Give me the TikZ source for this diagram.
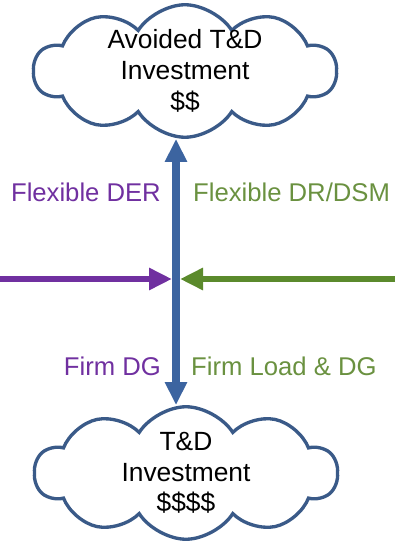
\documentclass[tikz,border=0pt]{standalone}
\usepackage{fontspec}
\setmainfont{Liberation Sans}
\usetikzlibrary{shapes.symbols,arrows.meta}
\definecolor{cloudblue}{HTML}{3A5A88}
\definecolor{arrowblue}{HTML}{3C64A0}
\definecolor{derpurple}{HTML}{7030A0}
\definecolor{dsmgreen}{HTML}{5B8A2C}
\definecolor{txtgreen}{HTML}{6A9140}
\tikzset{
  invest/.style={draw=cloudblue, line width=1.9pt, cloud, cloud puffs=10, cloud puff arc=115,
    aspect=2.4, minimum width=6.05cm, minimum height=2.65cm, align=center, inner sep=-4pt,
    font=\fontsize{15}{17.5}\selectfont},
  lbl/.style={font=\fontsize{14.6}{17.5}\selectfont}
}
\begin{document}
\begin{tikzpicture}[>={Triangle[width=0.42cm,length=0.46cm]}]
\useasboundingbox (0,0) rectangle (7.9,-10.92);
\node(Avoided)[invest] at (3.7,-1.42) {Avoided T\&D\\Investment\\\$\$};
\node(Invest)[invest] at (3.72,-9.46) {T\&D\\Investment\\\$\$\$\$};

\coordinate(Mid) at (3.52,-5.58);
\coordinate(Gauche) at (0,-5.58);
\coordinate(Droite) at (7.9,-5.58);

\node(FlexDER)[lbl, text=derpurple, anchor=east] at (3.34,-3.84) {Flexible DER};
\node(FlexDSM)[lbl, text=txtgreen, anchor=west] at (3.74,-3.84) {Flexible DR/DSM};
\node(FirmDG)[lbl, text=derpurple, anchor=east] at (3.34,-7.32) {Firm DG};
\node(FirmLoad)[lbl, text=txtgreen, anchor=west] at (3.70,-7.32) {Firm Load \& DG};

\draw[arrowblue, line width=0.17cm] (Mid) edge[->] (Mid |- Avoided.south);
\draw[arrowblue, line width=0.17cm] (Mid) edge[->] (Mid |- Invest.north);
\draw[derpurple, line width=0.13cm] (Gauche) edge[->, shorten >=0.08cm] (Mid);
\draw[dsmgreen, line width=0.13cm] (Droite) edge[->, shorten >=0.08cm] (Mid);
\end{tikzpicture}
\end{document}
